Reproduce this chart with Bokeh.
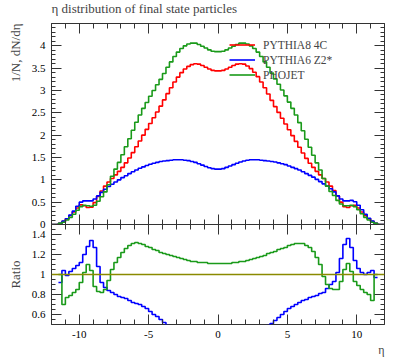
import numpy as np
from bokeh.plotting import figure
from bokeh.layouts import column
from bokeh.models import (FixedTicker, Legend, LegendItem, Span, Title,
                          LinearAxis, NumeralTickFormatter)
from bokeh.embed import file_html
from bokeh.resources import INLINE

# ---------------- data ----------------
# main panel: 96 bins of width 0.25 from eta=-12 to 12
bin_lo, bin_hi, bin_w = -12.0, 12.0, 0.25

pythia8_4c = [
    0, 0, 0.025, 0.07, 0.13, 0.20, 0.28, 0.37, 0.44, 0.42, 0.38, 0.39,
    0.49, 0.63, 0.75, 0.86, 0.95, 1.03, 1.11, 1.19, 1.28, 1.38, 1.49, 1.61,
    1.74, 1.87, 2.00, 2.13, 2.26, 2.39, 2.52, 2.65, 2.79, 2.93, 3.06, 3.19,
    3.30, 3.40, 3.48, 3.54, 3.58, 3.60, 3.59, 3.56, 3.52, 3.48, 3.45, 3.44,
    3.44, 3.45, 3.48, 3.52, 3.56, 3.59, 3.60, 3.59, 3.55, 3.49, 3.41, 3.31,
    3.19, 3.06, 2.92, 2.78, 2.64, 2.51, 2.38, 2.25, 2.12, 1.99, 1.86, 1.73,
    1.60, 1.48, 1.37, 1.28, 1.19, 1.11, 1.03, 0.95, 0.86, 0.76, 0.64, 0.50,
    0.40, 0.38, 0.42, 0.43, 0.37, 0.28, 0.20, 0.13, 0.07, 0.025, 0, 0,
]
pythia6_z2 = [
    0, 0, 0.025, 0.075, 0.13, 0.21, 0.30, 0.41, 0.50, 0.53, 0.53, 0.53,
    0.57, 0.64, 0.72, 0.79, 0.85, 0.90, 0.95, 1.00, 1.05, 1.09, 1.14, 1.18,
    1.22, 1.26, 1.29, 1.32, 1.35, 1.37, 1.39, 1.41, 1.42, 1.43, 1.44, 1.45,
    1.45, 1.45, 1.44, 1.43, 1.41, 1.39, 1.36, 1.33, 1.30, 1.27, 1.25, 1.24,
    1.24, 1.25, 1.28, 1.31, 1.34, 1.37, 1.40, 1.42, 1.44, 1.45, 1.45, 1.45,
    1.44, 1.43, 1.42, 1.41, 1.40, 1.38, 1.36, 1.34, 1.31, 1.28, 1.25, 1.22,
    1.18, 1.14, 1.10, 1.06, 1.01, 0.96, 0.91, 0.86, 0.80, 0.73, 0.64, 0.57,
    0.53, 0.53, 0.54, 0.51, 0.43, 0.33, 0.23, 0.14, 0.075, 0.025, 0, 0,
]
phojet = [
    0, 0, 0.025, 0.05, 0.10, 0.16, 0.23, 0.32, 0.40, 0.43, 0.42, 0.41,
    0.43, 0.52, 0.62, 0.73, 0.89, 1.08, 1.24, 1.39, 1.56, 1.74, 1.92, 2.11,
    2.29, 2.45, 2.60, 2.73, 2.87, 3.00, 3.13, 3.25, 3.38, 3.52, 3.64, 3.76,
    3.86, 3.94, 4.00, 4.04, 4.06, 4.06, 4.03, 3.99, 3.95, 3.91, 3.88, 3.87,
    3.87, 3.88, 3.91, 3.95, 3.99, 4.03, 4.06, 4.06, 4.04, 4.00, 3.94, 3.86,
    3.76, 3.64, 3.52, 3.39, 3.26, 3.14, 3.01, 2.88, 2.74, 2.60, 2.45, 2.28,
    2.10, 1.91, 1.73, 1.55, 1.38, 1.22, 1.03, 0.86, 0.74, 0.65, 0.54, 0.46,
    0.42, 0.42, 0.43, 0.40, 0.33, 0.24, 0.16, 0.10, 0.05, 0.025, 0, 0,
]

# ratio panel (to PYTHIA8 4C): 92 bins of width 0.25 from eta=-11.5 to 11.5
ratio_lo, ratio_hi = -11.5, 11.5
ratio_pythia6_z2 = [
    0.92, 1.04, 0.99, 1.03, 1.06, 1.09, 1.12, 1.20, 1.28, 1.34, 1.27, 1.08,
    0.92, 0.87, 0.84, 0.82, 0.80, 0.78, 0.77, 0.76, 0.74, 0.72, 0.71, 0.70,
    0.68, 0.66, 0.63, 0.60, 0.58, 0.55, 0.52, 0.49, 0.47, 0.45, 0.44, 0.42,
    0.41, 0.40, 0.39, 0.39, 0.38, 0.37, 0.37, 0.36, 0.36, 0.36,
    0.36, 0.36, 0.36, 0.37, 0.37, 0.38, 0.39, 0.39, 0.40, 0.41, 0.42, 0.44,
    0.45, 0.47, 0.49, 0.51, 0.54, 0.57, 0.60, 0.63, 0.66, 0.68, 0.70, 0.72,
    0.74, 0.75, 0.77, 0.78, 0.79, 0.81, 0.82, 0.86, 0.90, 0.93, 1.02, 1.16,
    1.30, 1.36, 1.27, 1.14, 1.06, 1.02, 1.00, 1.02, 1.04, 0.97,
]
ratio_phojet = [
    1.00, 0.70, 0.77, 0.79, 0.82, 0.85, 0.92, 1.02, 1.10, 1.04, 0.88, 0.83,
    0.82, 0.85, 0.94, 1.05, 1.12, 1.17, 1.22, 1.26, 1.29, 1.31, 1.32, 1.31,
    1.30, 1.28, 1.27, 1.25, 1.24, 1.22, 1.21, 1.20, 1.19, 1.18, 1.17, 1.16,
    1.15, 1.14, 1.13, 1.13, 1.12, 1.12, 1.12, 1.11, 1.11, 1.11,
    1.11, 1.11, 1.11, 1.11, 1.12, 1.12, 1.13, 1.13, 1.14, 1.15, 1.16, 1.17,
    1.18, 1.19, 1.21, 1.22, 1.23, 1.25, 1.26, 1.27, 1.29, 1.30, 1.31, 1.31,
    1.31, 1.29, 1.27, 1.23, 1.17, 1.10, 0.98, 0.90, 0.86, 0.85, 0.85, 0.93,
    1.05, 1.11, 1.03, 0.93, 0.89, 0.85, 0.82, 0.80, 0.74, 1.00,
]

labels = ["PYTHIA8 4C", "PYTHIA6 Z2*", "PHOJET"]
colors = ["#ff0000", "#0000ff", "#1a9a1a"]

x_major = [-10, -5, 0, 5, 10]
main_y_major = [0, 0.5, 1, 1.5, 2, 2.5, 3, 3.5, 4]
ratio_y_major = [0.6, 0.8, 1.0, 1.2, 1.4]

title_text = "\u03b7 distribution of final state particles"
ylabel_main = "1/N, dN/d\u03b7"
ylabel_ratio = "Ratio"
xlabel = "\u03b7"

# ---------------- styling ----------------
FONT = "Liberation Serif"
W = 397
LEFT, RIGHT = 49, 13
LW = 1.6
OVL = 8    # px by which the two canvases overlap around the panel boundary
TOPX = 11  # px of the main canvas hidden above the page top (room for the title)
TICK_COLOR = "#333333"

edges = np.arange(bin_lo, bin_hi + bin_w / 2, bin_w)
redges = np.arange(ratio_lo, ratio_hi + bin_w / 2, bin_w)


def step_y(vals):
    return list(vals) + [vals[-1]]


def tick_only_axis(p, side, positions, length):
    """An axis that draws only inward ticks (no labels)."""
    ax = LinearAxis(ticker=FixedTicker(ticks=[], minor_ticks=list(positions)))
    ax.axis_line_color = None
    ax.major_tick_in = 0
    ax.major_tick_out = 0
    ax.minor_tick_in = length
    ax.minor_tick_out = 0
    ax.minor_tick_line_color = TICK_COLOR
    ax.minor_tick_line_width = 1
    ax.major_label_standoff = 0
    p.add_layout(ax, side)


def labelled_axis(p, side, major, minor, minor_len, fmt):
    ax = LinearAxis(ticker=FixedTicker(ticks=major, minor_ticks=list(minor)))
    ax.axis_line_color = None
    ax.major_tick_out = 0
    ax.minor_tick_out = 0
    ax.major_tick_in = 10
    ax.minor_tick_in = minor_len
    ax.major_tick_line_color = TICK_COLOR
    ax.minor_tick_line_color = TICK_COLOR
    ax.major_tick_line_width = 1
    ax.minor_tick_line_width = 1
    ax.major_label_text_font = FONT
    ax.major_label_text_font_size = "11px"
    ax.major_label_text_color = "black"
    ax.major_label_standoff = 6
    ax.formatter = NumeralTickFormatter(format=fmt)
    p.add_layout(ax, side)


def add_axes(p, ymajor, yminor, label_x):
    xminor = range(-12, 13)
    # x: bottom (labelled only on the ratio panel) and top
    if label_x:
        labelled_axis(p, "below", x_major, xminor, 5, "0")
    else:
        tick_only_axis(p, "below", xminor, 5)
        tick_only_axis(p, "below", x_major, 10)
    tick_only_axis(p, "above", xminor, 5)
    tick_only_axis(p, "above", x_major, 10)
    # y: left labelled, right ticks only
    labelled_axis(p, "left", ymajor, yminor, 4, "0.[0]")
    tick_only_axis(p, "right", yminor, 4)
    tick_only_axis(p, "right", ymajor, 10)


common = dict(width=W, output_backend="svg", toolbar_location=None,
              x_axis_location=None, y_axis_location=None,
              min_border_left=LEFT, min_border_right=RIGHT,
              background_fill_color="white",
              outline_line_color=TICK_COLOR, outline_line_width=1)

# ---------------- main panel ----------------
p1 = figure(height=224 + OVL + TOPX, x_range=(bin_lo, bin_hi), y_range=(0, 4.5),
            min_border_top=23 + TOPX, min_border_bottom=OVL,
            border_fill_color="white", margin=(-TOPX, 0, 0, 0), **common)
p1.grid.visible = False
add_axes(p1, main_y_major, np.round(np.arange(0, 4.51, 0.1), 2), False)

rends = []
for vals, col in zip([pythia8_4c, pythia6_z2, phojet], colors):
    r = p1.step(x=edges, y=step_y(vals), mode="after", line_color=col,
                line_width=LW)
    rends.append(r)

legend = Legend(items=[LegendItem(label=l, renderers=[r]) for l, r in zip(labels, rends)],
                location=(178, 142), orientation="vertical",
                border_line_color=None, background_fill_alpha=0,
                padding=0, margin=0, spacing=0,
                glyph_width=26, glyph_height=15, label_height=15,
                label_standoff=8, label_text_font=FONT,
                label_text_font_size="11.5px")
p1.add_layout(legend)

p1.add_layout(Title(text=title_text, align="left", standoff=15,
                    vertical_align="bottom",
                    text_font=FONT, text_font_size="13px",
                    text_font_style="normal"), "above")
p1.add_layout(Title(text=ylabel_main, align="right", standoff=11,
                    text_font=FONT, text_font_size="13px",
                    text_font_style="normal"), "left")

# ---------------- ratio panel ----------------
p2 = figure(height=134 + OVL, x_range=p1.x_range, y_range=(0.5, 1.5),
            min_border_top=OVL, min_border_bottom=34,
            border_fill_alpha=0, margin=(-2 * OVL, 0, 0, 0), **common)
p2.grid.visible = False
add_axes(p2, ratio_y_major, np.round(np.arange(0.5, 1.501, 0.05), 2), True)

p2.add_layout(Span(location=1.0, dimension="width", line_color="#8a8a00",
                   line_width=1.3))
for vals, col in zip([ratio_pythia6_z2, ratio_phojet], colors[1:]):
    p2.step(x=redges, y=step_y(vals), mode="after", line_color=col,
            line_width=LW)

p2.add_layout(Title(text=ylabel_ratio, align="center", standoff=11,
                    text_font=FONT, text_font_size="13px",
                    text_font_style="normal"), "left")
p2.add_layout(Title(text=xlabel, align="right", standoff=0,
                    text_font=FONT, text_font_size="12px",
                    text_font_style="normal"), "below")

layout = column(p1, p2, spacing=0)

open("out.html", "w").write(file_html(layout, INLINE))
